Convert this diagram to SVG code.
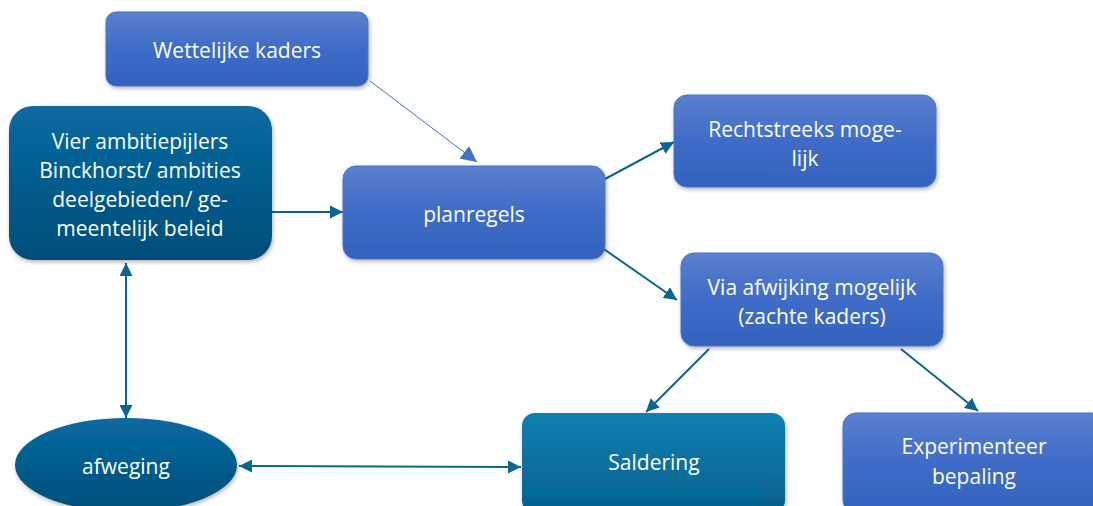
<svg xmlns="http://www.w3.org/2000/svg" width="1093" height="506" viewBox="0 0 1093 506">
<defs>
<linearGradient id="gBlue" x1="0" y1="0" x2="0" y2="1"><stop offset="0" stop-color="#5b80cd"/><stop offset="0.5" stop-color="#3f6cc8"/><stop offset="1" stop-color="#3262bc"/></linearGradient>
<linearGradient id="gDark" x1="0" y1="0" x2="0" y2="1"><stop offset="0" stop-color="#076aa1"/><stop offset="1" stop-color="#054e79"/></linearGradient>
<linearGradient id="gTeal" x1="0" y1="0" x2="0" y2="1"><stop offset="0" stop-color="#0980b2"/><stop offset="1" stop-color="#06608c"/></linearGradient>
<filter id="sh" x="-10%" y="-10%" width="120%" height="130%"><feDropShadow dx="1" dy="2" stdDeviation="2" flood-color="#000" flood-opacity="0.3"/></filter>
<marker id="ah" viewBox="0 0 10 10" refX="10" refY="5" markerWidth="6.5" markerHeight="6.5" orient="auto-start-reverse" markerUnits="strokeWidth"><path d="M0,0 L10,5 L0,10 z" fill="#0b6590"/></marker>
<marker id="ahb" viewBox="0 0 10 10" refX="10" refY="5" markerWidth="16" markerHeight="16" orient="auto" markerUnits="strokeWidth"><path d="M0,0 L10,5 L0,10 z" fill="#4472c4"/></marker>
</defs>
<style>
.t{font-family:"Open Sans","Liberation Sans",sans-serif;font-size:21px;fill:#fff;text-anchor:middle;dominant-baseline:central}
.b{fill:url(#gBlue);stroke:#4a74c6;stroke-width:1;filter:url(#sh)}
.d{fill:url(#gDark);filter:url(#sh)}
.c{fill:none;stroke:#0b6590;stroke-width:2;marker-end:url(#ah)}
</style>
<g id="connectors">
<line x1="370" y1="81" x2="477" y2="162" stroke="#4472c4" stroke-width="1" marker-end="url(#ahb)"/>
<line class="c" x1="272" y1="212" x2="343" y2="212"/>
<line class="c" x1="605" y1="179" x2="674" y2="142"/>
<line class="c" x1="598" y1="245" x2="677" y2="300"/>
<line class="c" x1="709" y1="349" x2="646" y2="412"/>
<line class="c" x1="901" y1="349" x2="978" y2="411"/>
<line class="c" x1="126" y1="418" x2="126" y2="263" marker-start="url(#ah)"/>
<line class="c" x1="239" y1="466" x2="521" y2="467" marker-start="url(#ah)"/>
</g>
<g id="wettelijke"><rect class="b" x="106" y="12" width="262" height="74" rx="10"/><text class="t" x="237" y="50">Wettelijke kaders</text></g>
<g id="vier"><rect class="d" x="9" y="106" width="263" height="154" rx="24"/>
<text class="t" x="140" y="141">Vier ambitiepijlers</text><text class="t" x="140" y="170">Binckhorst/ ambities</text><text class="t" x="140" y="199">deelgebieden/ ge-</text><text class="t" x="140" y="228">meentelijk beleid</text></g>
<g id="planregels"><rect class="b" x="343" y="166" width="262" height="93" rx="13"/><text class="t" x="474" y="214">planregels</text></g>
<g id="rechtstreeks"><rect class="b" x="674" y="95" width="262" height="92" rx="13"/><text class="t" x="805" y="129">Rechtstreeks moge-</text><text class="t" x="805" y="158">lijk</text></g>
<g id="via"><rect class="b" x="681" y="253" width="262" height="93" rx="13"/><text class="t" x="812" y="287">Via afwijking mogelijk</text><text class="t" x="812" y="316">(zachte kaders)</text></g>
<g id="saldering"><rect x="522" y="413" width="263" height="100" rx="13" fill="url(#gTeal)" filter="url(#sh)"/><text class="t" x="654" y="462">Saldering</text></g>
<g id="experimenteer"><rect class="b" x="843" y="413" width="262" height="100" rx="13"/><text class="t" x="974" y="446">Experimenteer</text><text class="t" x="974" y="476">bepaling</text></g>
<g id="afweging"><ellipse class="d" cx="126" cy="465" rx="111" ry="47"/><text class="t" x="126" y="466">afweging</text></g>
</svg>
